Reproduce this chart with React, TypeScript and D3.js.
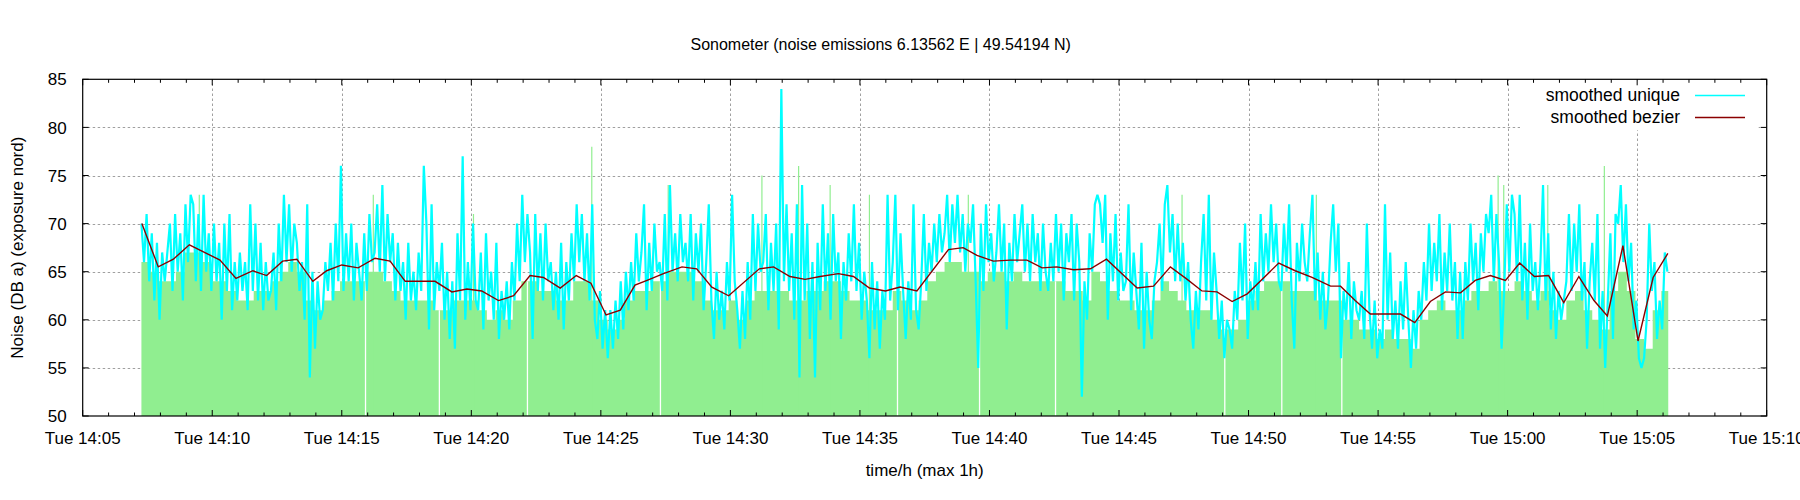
import React, { useRef, useEffect } from 'react';
import * as d3 from 'd3';

const day = '2013-10-15';
const title = 'Sonometer (noise emissions 6.13562 E | 49.54194 N)';
const xLabel = 'time/h (max 1h)';
const yLabel = 'Noise (DB a) (exposure nord)';
const xDomain = ['14:05:00', '15:10:00'];
const yDomain = [50, 85];
const yTicks = [50, 55, 60, 65, 70, 75, 80, 85];

const sampleStart = '14:07:16';
const sampleEnd = '15:06:12';

// smoothed unique, one value every 6 s (one row = one minute)
const uniqueStep = 6;
const uniqueValues = [
	70, 66, 71, 64, 69, 62, 68, 60, 67, 64,
	67, 70, 63, 71, 65, 69, 62, 72, 66, 73,
	72, 64, 71, 63, 73, 65, 69, 63, 70, 64,
	68, 60, 70, 63, 71, 61, 66, 62, 67, 63,
	66, 61, 72, 63, 70, 62, 68, 61, 66, 62,
	63, 67, 61, 70, 64, 73, 66, 72, 65, 70,
	68, 63, 66, 60, 72, 54, 65, 57, 64, 60,
	61, 66, 63, 68, 62, 70, 64, 76, 63, 69,
	64, 70, 62, 68, 65, 62, 69, 63, 71, 66,
	67, 72, 65, 74, 64, 71, 66, 69, 62, 68,
	63, 66, 60, 68, 62, 65, 61, 67, 63, 76,
	70, 59, 72, 61, 66, 63, 68, 60, 65, 58,
	64, 57, 69, 62, 77, 60, 66, 61, 70, 62,
	61, 67, 59, 69, 62, 65, 60, 68, 58, 63,
	60, 64, 59, 66, 62, 70, 64, 73, 66, 71,
	67, 58, 71, 63, 69, 62, 70, 64, 66, 61,
	65, 60, 68, 59, 66, 62, 69, 64, 72, 66,
	71, 64, 69, 62, 72, 60, 58, 63, 57, 61,
	56, 61, 57, 62, 58, 64, 59, 65, 61, 66,
	62, 69, 64, 67, 72, 61, 68, 63, 70, 65,
	66, 63, 71, 62, 74, 65, 69, 64, 71, 66,
	68, 64, 71, 62, 69, 65, 70, 61, 66, 72,
	62, 58, 65, 60, 63, 59, 66, 62, 73, 64,
	61, 57, 63, 58, 66, 60, 71, 63, 70, 65,
	66, 71, 61, 68, 63, 70, 59, 84, 64, 72,
	63, 69, 60, 72, 54, 74, 62, 70, 58, 66,
	54, 68, 61, 72, 63, 69, 60, 71, 64, 67,
	58, 66, 62, 69, 64, 72, 63, 68, 60, 65,
	62, 56, 66, 59, 64, 57, 63, 60, 73, 62,
	66, 73, 61, 69, 63, 58, 64, 60, 72, 61,
	59, 64, 71, 63, 68, 65, 70, 66, 71, 67,
	69, 73, 66, 72, 68, 73, 67, 71, 65, 70,
	68, 72, 64, 55, 70, 63, 72, 66, 69, 64,
	67, 72, 65, 70, 59, 68, 64, 71, 66, 69,
	72, 65, 70, 64, 71, 66, 69, 63, 70, 65,
	63, 68, 64, 71, 65, 70, 62, 69, 66, 71,
	62, 70, 66, 52, 64, 60, 69, 65, 72, 73,
	72, 68, 73, 60, 69, 64, 71, 62, 67, 63,
	64, 72, 61, 67, 63, 59, 68, 57, 65, 60,
	58, 64, 66, 70, 63, 72, 74, 67, 71, 64,
	70, 64, 68, 62, 66, 60, 57, 63, 59, 66,
	71, 62, 73, 60, 67, 63, 58, 62, 56, 60,
	59, 57, 63, 60, 68, 62, 70, 58, 64, 61,
	66, 61, 71, 64, 69, 65, 72, 66, 70, 64,
	63, 70, 65, 72, 62, 57, 68, 64, 70, 66,
	64, 69, 73, 62, 67, 60, 65, 59, 62, 68,
	72, 65, 70, 56, 63, 60, 66, 58, 64, 61,
	60, 63, 58, 70, 61, 57, 62, 56, 59, 57,
	72, 60, 67, 58, 62, 57, 64, 59, 66, 60,
	55, 61, 57, 63, 60, 66, 62, 70, 63, 68,
	64, 71, 61, 67, 63, 70, 62, 66, 58, 65,
	58, 66, 62, 70, 64, 68, 61, 69, 65, 71,
	69, 73, 64, 71, 66, 57, 63, 72, 65, 73,
	71, 64, 73, 62, 68, 60, 70, 63, 66, 61,
	66, 74, 62, 69, 59, 65, 58, 63, 60, 62,
	64, 71, 63, 70, 65, 72, 62, 66, 57, 64,
	68, 62, 71, 57, 63, 55, 62, 69, 58, 71,
	70, 74, 66, 72, 64, 68, 59, 62, 56, 55,
	56, 60, 70, 63, 66, 58, 62, 59, 67, 65,
];

// raw level (impulses), one value every 20 s (one row = one minute)
const rawStep = 20;
const rawValues = [
	66, 65, 64,  64, 65, 67,  67, 66, 64,  64, 63, 62,  62, 63, 63,
	64, 65, 66,  65, 62, 61,  62, 63, 64,  64, 64, 65,  65, 64, 63,
	62, 62, 62,  62, 61, 61,  62, 62, 62,  61, 60, 61,  60, 62, 64,
	64, 63, 63,  62, 62, 64,  64, 62, 60,  59, 60, 62,  63, 63, 64,
	64, 65, 65,  65, 64, 62,  61, 61, 62,  60, 62, 63,  63, 63, 63,
	62, 62, 63,  63, 64, 64,  63, 62, 62,  61, 61, 61,  63, 62, 61,
	62, 64, 65,  66, 66, 65,  65, 64, 65,  65, 64, 65,  64, 64, 64,
	64, 64, 63,  63, 62, 65,  64, 63, 62,  62, 61, 61,  62, 64, 63,
	62, 61, 61,  61, 60, 59,  59, 60, 62,  63, 64, 64,  64, 63, 63,
	63, 62, 62,  62, 60, 60,  59, 59, 58,  59, 58, 58,  57, 60, 61,
	62, 61, 61,  62, 63, 63,  64, 63, 63,  64, 63, 62,  63, 61, 60,
	62, 63, 61,  60, 59, 63,  65, 63, 58,  57, 61, 63,
];

const rawPeakTimes = [
	'14:09:30', '14:16:13', '14:20:05', '14:24:39', '14:27:36', '14:31:13', '14:32:38', '14:33:51',
	'14:35:22', '14:39:11', '14:47:26', '14:52:37', '14:59:38', '14:59:51', '15:01:33', '15:03:44',
];
const rawPeakValues = [73, 73, 71, 78, 74, 75, 76, 74, 73, 73, 73, 73, 75, 74, 74, 76];

// missing samples
const gapTimes = [
	'14:15:55', '14:18:46', '14:22:10', '14:27:18', '14:36:27',
	'14:39:37', '14:42:33', '14:49:05', '14:51:17', '14:53:36',
];

// smoothed bezier
const bezierTimes = [
	'14:07:17', '14:07:55', '14:08:30', '14:09:07', '14:10:18', '14:10:55', '14:11:34', '14:12:06',
	'14:12:43', '14:13:16', '14:13:53', '14:14:25', '14:15:00', '14:15:38', '14:16:17', '14:16:52',
	'14:17:27', '14:18:36', '14:19:15', '14:19:50', '14:20:24', '14:21:03', '14:21:38', '14:22:16',
	'14:22:47', '14:23:26', '14:24:03', '14:24:37', '14:25:12', '14:25:45', '14:26:19', '14:26:47',
	'14:27:25', '14:28:08', '14:28:42', '14:29:17', '14:29:56', '14:31:07', '14:31:40', '14:32:18',
	'14:32:53', '14:33:28', '14:34:10', '14:34:45', '14:35:22', '14:35:59', '14:36:33', '14:37:12',
	'14:38:25', '14:38:59', '14:39:31', '14:40:09', '14:40:48', '14:41:27', '14:42:02', '14:42:36',
	'14:43:15', '14:43:54', '14:44:31', '14:45:42', '14:46:20', '14:46:59', '14:47:38', '14:48:12',
	'14:48:47', '14:49:22', '14:49:57', '14:51:10', '14:51:48', '14:52:27', '14:53:10', '14:53:33',
	'14:54:07', '14:54:42', '14:55:17', '14:55:52', '14:56:25', '14:57:01', '14:57:36', '14:58:11',
	'14:58:45', '14:59:20', '14:59:55', '15:00:28', '15:01:02', '15:01:35', '15:02:10', '15:02:45',
	'15:03:20', '15:03:51', '15:04:27', '15:05:02', '15:05:37', '15:06:11',
];
const bezierValues = [
	70.0, 65.5, 66.3, 67.8, 66.2, 64.3, 65.1, 64.6,
	66.1, 66.3, 64.0, 65.1, 65.7, 65.4, 66.4, 66.1,
	64.0, 64.0, 62.9, 63.2, 63.0, 62.0, 62.5, 64.6,
	64.4, 63.3, 64.6, 63.8, 60.5, 61.0, 63.6, 64.1,
	64.8, 65.5, 65.3, 63.4, 62.5, 65.3, 65.5, 64.5,
	64.2, 64.5, 64.8, 64.5, 63.3, 63.0, 63.4, 63.0,
	67.3, 67.5, 66.7, 66.1, 66.2, 66.2, 65.4, 65.5,
	65.2, 65.3, 66.3, 63.3, 63.5, 65.5, 64.2, 63.0,
	62.9, 61.9, 62.7, 65.9, 65.1, 64.4, 63.5, 63.5,
	62.0, 60.6, 60.6, 60.6, 59.7, 61.9, 62.9, 62.8,
	64.1, 64.6, 64.1, 65.9, 64.5, 64.6, 61.8, 64.5,
	62.0, 60.4, 67.7, 57.8, 64.4, 66.9,
];

const legendLabels = ['smoothed unique', 'smoothed bezier'];

const COLORS = {
	raw: '#90ee90',
	unique: '#00ffff',
	bezier: '#8b0000',
	grid: '#a0a0a0',
};

const FONT = '"Liberation Sans", Arial, Helvetica, sans-serif';

const App: React.FC = () => {
	const svgRef = useRef<SVGSVGElement | null>(null);

	const width = 1800;
	const height = 500;
	const marginLeft = 82.7;
	const marginRight = 33.3;
	const marginTop = 79.3;
	const marginBottom = 84;

	useEffect(() => {
		if (!svgRef.current) return;
		document.body.style.margin = '0';

		const svg = d3.select(svgRef.current)
			.attr('width', width)
			.attr('height', height)
			.attr('viewBox', [0, 0, width, height].join(' '))
			.style('font-family', FONT);

		const parse = d3.timeParse('%Y-%m-%d %H:%M:%S');
		const at = (s: string) => parse(`${day} ${s}`) as Date;
		const addSec = (d: Date, s: number) => new Date(d.getTime() + s * 1000);

		const x0 = marginLeft;
		const x1 = width - marginRight;
		const y0 = height - marginBottom;
		const y1 = marginTop;

		const x = d3.scaleTime().domain([at(xDomain[0]), at(xDomain[1])]).range([x0, x1]);
		const y = d3.scaleLinear().domain(yDomain).range([y0, y1]);

		const start = at(sampleStart);
		const end = at(sampleEnd);

		const uniqueData = uniqueValues.map((v, i) => ({ t: addSec(start, i * uniqueStep), v }));
		const rawData = rawValues.map((v, i) => ({ t: addSec(start, i * rawStep), v }));
		rawData.push({ t: end, v: rawValues[rawValues.length - 1] });
		const bezierData = bezierTimes.map((s, i) => ({ t: at(s), v: bezierValues[i] }));

		const majorTicks = x.ticks(d3.timeMinute.every(5) as d3.TimeInterval);
		const minorTicks = x.ticks(d3.timeMinute.every(1) as d3.TimeInterval);

		// Grid lines
		const grid = svg.append('g')
			.attr('stroke', COLORS.grid)
			.attr('stroke-width', 1)
			.attr('stroke-dasharray', '2.5,2.5');
		grid.selectAll('line.v')
			.data(majorTicks.slice(1, -1))
			.join('line')
			.attr('x1', d => Math.round(x(d)) + 0.5)
			.attr('x2', d => Math.round(x(d)) + 0.5)
			.attr('y1', y0)
			.attr('y2', y1);
		grid.selectAll('line.h')
			.data(yTicks.slice(1, -1))
			.join('line')
			.attr('x1', x0)
			.attr('x2', x1)
			.attr('y1', d => Math.round(y(d)) + 0.5)
			.attr('y2', d => Math.round(y(d)) + 0.5);

		// Key box hides the grid behind it
		svg.append('rect')
			.attr('x', 1520)
			.attr('y', y1 + 1)
			.attr('width', x1 - 1520 - 8)
			.attr('height', 50)
			.attr('fill', 'white');

		// Raw impulses as a filled level
		const rawArea = d3.area<{ t: Date; v: number }>()
			.x(d => x(d.t))
			.y0(y0)
			.y1(d => y(d.v))
			.curve(d3.curveStepAfter);
		svg.append('path')
			.attr('fill', COLORS.raw)
			.attr('d', rawArea(rawData));

		svg.append('g')
			.attr('stroke', COLORS.raw)
			.attr('stroke-width', 1.2)
			.selectAll('line')
			.data(rawPeakTimes)
			.join('line')
			.attr('x1', d => x(at(d)))
			.attr('x2', d => x(at(d)))
			.attr('y1', y0)
			.attr('y2', (d, i) => y(rawPeakValues[i]));

		// Missing samples
		svg.append('g')
			.attr('stroke', 'white')
			.attr('stroke-width', 1.3)
			.selectAll('line')
			.data(gapTimes)
			.join('line')
			.attr('x1', d => x(at(d)))
			.attr('x2', d => x(at(d)))
			.attr('y1', y0 - 0.5)
			.attr('y2', d => {
				const i = Math.floor((at(d).getTime() - start.getTime()) / 1000 / rawStep);
				return y(rawValues[Math.max(0, Math.min(rawValues.length - 1, i))]);
			});

		const line = d3.line<{ t: Date; v: number }>()
			.x(d => x(d.t))
			.y(d => y(d.v));

		svg.append('path')
			.attr('fill', 'none')
			.attr('stroke', COLORS.unique)
			.attr('stroke-width', 2.2)
			.attr('stroke-linejoin', 'bevel')
			.attr('d', line(uniqueData));

		svg.append('path')
			.attr('fill', 'none')
			.attr('stroke', COLORS.bezier)
			.attr('stroke-width', 1.4)
			.attr('d', line(bezierData));

		// Border and ticks (mirrored on all sides)
		svg.append('rect')
			.attr('x', x0)
			.attr('y', y1)
			.attr('width', x1 - x0)
			.attr('height', y0 - y1)
			.attr('fill', 'none')
			.attr('stroke', 'black')
			.attr('stroke-width', 1.2);

		const ticks = svg.append('g').attr('stroke', 'black').attr('stroke-width', 1);
		const majorSet = new Set(majorTicks.map(d => d.getTime()));
		minorTicks.forEach(d => {
			const len = majorSet.has(d.getTime()) ? 6 : 3.5;
			const px = x(d);
			ticks.append('line').attr('x1', px).attr('x2', px).attr('y1', y0).attr('y2', y0 - len);
			ticks.append('line').attr('x1', px).attr('x2', px).attr('y1', y1).attr('y2', y1 + len);
		});
		yTicks.forEach(d => {
			const py = y(d);
			ticks.append('line').attr('x1', x0).attr('x2', x0 + 6).attr('y1', py).attr('y2', py);
			ticks.append('line').attr('x1', x1).attr('x2', x1 - 6).attr('y1', py).attr('y2', py);
		});

		const fmt = d3.timeFormat('%a %H:%M');
		svg.append('g')
			.attr('font-size', 17)
			.attr('text-anchor', 'middle')
			.selectAll('text')
			.data(majorTicks)
			.join('text')
			.attr('x', d => x(d))
			.attr('y', y0 + 28)
			.text(d => fmt(d));

		svg.append('g')
			.attr('font-size', 17)
			.attr('text-anchor', 'end')
			.selectAll('text')
			.data(yTicks)
			.join('text')
			.attr('x', x0 - 16)
			.attr('y', d => y(d))
			.attr('dy', '0.36em')
			.text(d => d);

		// Titles
		svg.append('text')
			.attr('x', 880.7)
			.attr('y', 49.5)
			.attr('font-size', 16)
			.attr('text-anchor', 'middle')
			.text(title);

		svg.append('text')
			.attr('x', (x0 + x1) / 2)
			.attr('y', 476)
			.attr('font-size', 17)
			.attr('text-anchor', 'middle')
			.text(xLabel);

		svg.append('text')
			.attr('transform', `translate(23,${(y0 + y1) / 2}) rotate(-90)`)
			.attr('font-size', 17)
			.attr('text-anchor', 'middle')
			.text(yLabel);

		// Key
		const key = svg.append('g').attr('font-size', 17.5);
		[COLORS.unique, COLORS.bezier].forEach((c, i) => {
			const ky = 95.5 + i * 22;
			key.append('text')
				.attr('x', 1680)
				.attr('y', ky)
				.attr('dy', '0.33em')
				.attr('text-anchor', 'end')
				.text(legendLabels[i]);
			key.append('line')
				.attr('x1', 1695)
				.attr('x2', 1745)
				.attr('y1', ky)
				.attr('y2', ky)
				.attr('stroke', c)
				.attr('stroke-width', 1.3);
		});

		return () => { svg.selectAll('*').remove(); };
	}, []);

	return (<svg ref={svgRef} style={{ display: 'block' }} />);
};

export default App;
